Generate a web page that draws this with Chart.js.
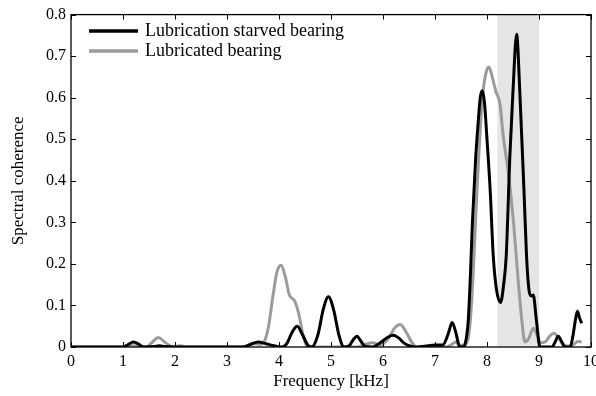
<!DOCTYPE html>
<html>
<head>
<meta charset="utf-8">
<script src="https://cdn.jsdelivr.net/npm/chart.js@4/dist/chart.umd.min.js"></script>
<style>
    html, body { margin: 0; padding: 0; background: #fff; }
    #wrap { width: 596px; height: 396px; }
</style>
</head>
<body>
<div id="wrap"><canvas id="coherence-chart"></canvas></div>
<script>
// frequency axis in kHz, spectral coherence values
const freqStarved = [0, 1.0, 1.1, 1.2, 1.3, 1.4, 1.6, 1.7, 1.8, 2.0, 3.3, 3.45, 3.6, 3.75, 3.9, 4.05,
    4.15, 4.25, 4.35, 4.45, 4.55, 4.63, 4.75, 4.85, 4.95, 5.05, 5.15, 5.25, 5.35, 5.43, 5.5, 5.57,
    5.65, 5.8, 5.9, 6.0, 6.1, 6.2, 6.3, 6.4, 6.5, 6.6, 6.8, 7.0, 7.15, 7.25, 7.33, 7.4, 7.47, 7.55,
    7.6, 7.64, 7.68, 7.72, 7.78, 7.83, 7.87, 7.91, 7.95, 8.0, 8.06, 8.12, 8.18, 8.26, 8.32, 8.37,
    8.44, 8.5, 8.57, 8.63, 8.71, 8.76, 8.81, 8.85, 8.89, 8.95, 9.02, 9.25, 9.31, 9.37, 9.44, 9.5,
    9.6, 9.65, 9.7, 9.74, 9.78, 9.82];
const starved = [0, 0, 0.006, 0.012, 0.007, 0, 0.001, 0.003, 0.001, 0, 0, 0.006, 0.012, 0.008, 0.003, 0,
    0.008, 0.035, 0.05, 0.03, 0.005, 0, 0.03, 0.09, 0.121, 0.09, 0.03, 0, 0.003, 0.018, 0.026, 0.015,
    0.002, 0, 0.006, 0.015, 0.024, 0.028, 0.022, 0.01, 0.003, 0, 0.002, 0.005, 0.005, 0.03, 0.059, 0.035, 0.002, 0,
    0.02, 0.064, 0.17, 0.30, 0.45, 0.54, 0.6, 0.617, 0.59, 0.5, 0.38, 0.22, 0.14, 0.107, 0.15, 0.22,
    0.46, 0.617, 0.753, 0.617, 0.38, 0.22, 0.135, 0.123, 0.125, 0.064, 0, 0, 0.012, 0.026, 0.012, 0,
    0, 0.025, 0.065, 0.086, 0.07, 0.057];

const freqLubricated = [0, 1.05, 1.2, 1.35, 1.45, 1.55, 1.68, 1.8, 1.95, 2.1, 2.25, 3.3, 3.4, 3.5, 3.62,
    3.7, 3.8, 3.88, 3.96, 4.04, 4.12, 4.2, 4.3, 4.38, 4.46, 4.56, 5.5, 5.65, 5.8, 5.95, 6.1, 6.22,
    6.33, 6.45, 6.55, 6.65, 7.2, 7.32, 7.4, 7.48, 7.58, 7.65, 7.7, 7.75, 7.8, 7.85, 7.9, 7.95, 8.0,
    8.04, 8.1, 8.17, 8.25, 8.31, 8.41, 8.51, 8.6, 8.67, 8.73, 8.8, 8.89, 8.96, 9.03, 9.12, 9.2,
    9.28, 9.36, 9.45, 9.55, 9.65, 9.75, 9.82];
const lubricated = [0, 0, 0.003, 0.001, 0, 0.01, 0.023, 0.012, 0.001, 0.003, 0, 0, 0.004, 0.008, 0.006,
    0.01, 0.05, 0.12, 0.18, 0.197, 0.17, 0.125, 0.111, 0.08, 0.03, 0, 0, 0.006, 0.01, 0.005, 0.02, 0.045,
    0.054, 0.035, 0.012, 0, 0, 0.006, 0.012, 0.004, 0.005, 0.03, 0.1, 0.22, 0.36, 0.48, 0.58, 0.64, 0.668,
    0.674, 0.65, 0.615, 0.585, 0.51, 0.42, 0.30, 0.16, 0.064, 0.012, 0.02, 0.045, 0.03, 0.01, 0.012, 0.025,
    0.033, 0.025, 0.008, 0.002, 0.005, 0.013, 0.012];

const seriesLabels = ['Lubrication starved bearing', 'Lubricated bearing'];
const xTicks = [0, 1, 2, 3, 4, 5, 6, 7, 8, 9, 10];
const yTicks = [0, 0.1, 0.2, 0.3, 0.4, 0.5, 0.6, 0.7, 0.8];
const highlightBand = [8.2, 9.0];

const FONT = '"Liberation Serif", "DejaVu Serif", serif';

const toPoints = (xs, ys) => xs.map((x, i) => ({ x: x, y: ys[i] }));

// shaded band behind the curves
const bandPlugin = {
    id: 'band',
    beforeDatasetsDraw(chart) {
        const { ctx, chartArea, scales } = chart;
        const x0 = scales.x.getPixelForValue(highlightBand[0]);
        const x1 = scales.x.getPixelForValue(highlightBand[1]);
        ctx.save();
        ctx.fillStyle = '#e5e5e5';
        ctx.fillRect(x0, chartArea.top, x1 - x0, chartArea.bottom - chartArea.top);
        ctx.restore();
    }
};

// box frame with inward ticks on all four sides, plus the legend
const framePlugin = {
    id: 'frame',
    afterDraw(chart) {
        const { ctx, chartArea, scales } = chart;
        const { left, right, top, bottom } = chartArea;
        const len = 5;
        ctx.save();
        ctx.strokeStyle = '#000';
        ctx.lineWidth = 1.3;
        ctx.strokeRect(left, top, right - left, bottom - top);
        ctx.lineWidth = 1;
        ctx.beginPath();
        xTicks.forEach(v => {
            const px = Math.round(scales.x.getPixelForValue(v)) + 0.5;
            ctx.moveTo(px, bottom); ctx.lineTo(px, bottom - len);
            ctx.moveTo(px, top); ctx.lineTo(px, top + len);
        });
        yTicks.forEach(v => {
            const py = Math.round(scales.y.getPixelForValue(v)) + 0.5;
            ctx.moveTo(left, py); ctx.lineTo(left + len, py);
            ctx.moveTo(right, py); ctx.lineTo(right - len, py);
        });
        ctx.stroke();

        // legend
        ctx.font = '18px ' + FONT;
        ctx.textBaseline = 'middle';
        chart.data.datasets.forEach((ds, i) => {
            const y = 31 + i * 20;
            ctx.strokeStyle = ds.borderColor;
            ctx.lineWidth = 3.5;
            ctx.beginPath();
            ctx.moveTo(89, y); ctx.lineTo(138, y);
            ctx.stroke();
            ctx.fillStyle = '#000';
            ctx.fillText(ds.label, 145, y);
        });
        ctx.restore();
    }
};

new Chart(document.getElementById('coherence-chart'), {
    type: 'line',
    data: {
        datasets: [{
            label: seriesLabels[0],
            data: toPoints(freqStarved, starved),
            borderColor: '#000000',
            borderWidth: 3,
            pointRadius: 0,
            cubicInterpolationMode: 'monotone',
            fill: false
        }, {
            label: seriesLabels[1],
            data: toPoints(freqLubricated, lubricated),
            borderColor: '#9b9b9b',
            borderWidth: 3,
            pointRadius: 0,
            cubicInterpolationMode: 'monotone',
            fill: false
        }]
    },
    options: {
        responsive: true,
        maintainAspectRatio: false,
        animation: false,
        events: [],
        layout: { padding: { top: 9, right: 5, left: 0, bottom: 0 } },
        plugins: {
            legend: { display: false },
            tooltip: { enabled: false }
        },
        scales: {
            x: {
                type: 'linear',
                min: 0,
                max: 10,
                afterBuildTicks: scale => { scale.ticks = xTicks.map(v => ({ value: v })); },
                afterFit: scale => { scale.height = 49; scale.paddingLeft = 0; scale.paddingRight = 0; },
                grid: { display: false, drawTicks: false },
                border: { display: false },
                ticks: {
                    padding: 5,
                    color: '#000',
                    maxRotation: 0,
                    font: { family: FONT, size: 16 }
                },
                title: {
                    display: true,
                    text: 'Frequency [kHz]',
                    color: '#000',
                    padding: { top: 4, bottom: 4 },
                    font: { family: FONT, size: 17 }
                }
            },
            y: {
                min: 0,
                max: 0.8,
                afterBuildTicks: scale => { scale.ticks = yTicks.map(v => ({ value: v })); },
                afterFit: scale => { scale.width = 71; },
                grid: { display: false, drawTicks: false },
                border: { display: false },
                ticks: {
                    padding: 5,
                    color: '#000',
                    callback: v => (v === 0 ? '0' : v.toFixed(1)),
                    font: { family: FONT, size: 16 }
                },
                title: {
                    display: true,
                    text: 'Spectral coherence',
                    color: '#000',
                    padding: { top: 8, bottom: 4 },
                    font: { family: FONT, size: 17 }
                }
            }
        }
    },
    plugins: [bandPlugin, framePlugin]
});
</script>
</body>
</html>
